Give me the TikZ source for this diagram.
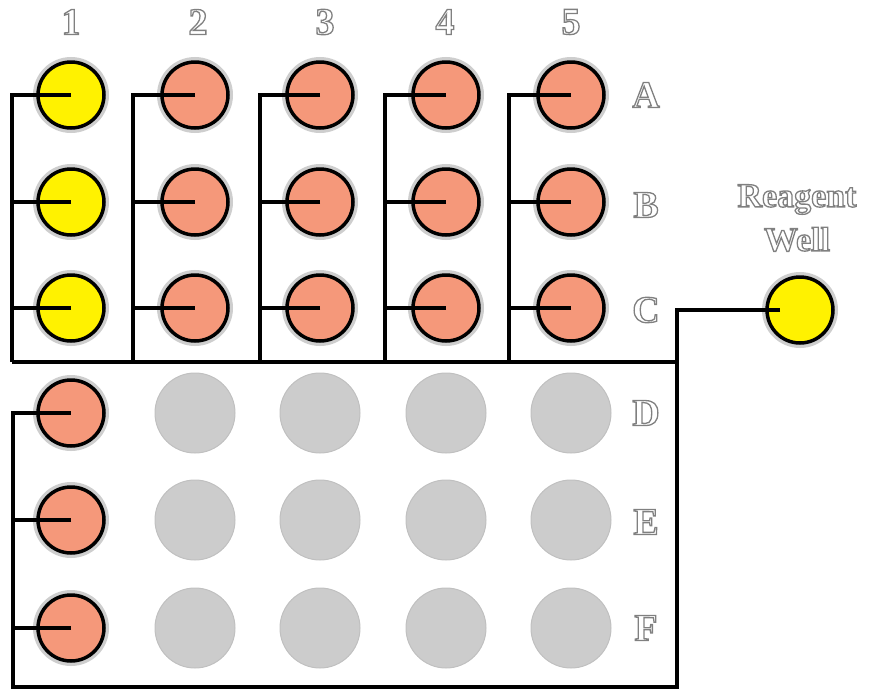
\documentclass[tikz,border=0pt]{standalone}
\usepackage{fontspec}
\setmainfont{Liberation Serif}
\definecolor{wellyellow}{RGB}{255,242,0}
\definecolor{wellsalmon}{RGB}{245,152,122}
\definecolor{halo}{RGB}{206,206,206}
\definecolor{emptywell}{RGB}{204,204,204}
\definecolor{emptyrim}{RGB}{192,192,192}
\newcommand{\outlinetext}[1]{{\color{white}\special{pdf:literal direct 2 Tr 0.5 0.5 0.5 RG 1.3 w}#1\special{pdf:literal direct 0 Tr 0 0 0 RG}}}
\tikzset{
  well/.style={circle, draw=black, line width=3.5pt, minimum size=66pt, inner sep=0pt,
    preaction={draw=halo, line width=10pt}},
  yellowwell/.style={well, fill=wellyellow},
  salmonwell/.style={well, fill=wellsalmon},
  emptywellstyle/.style={circle, fill=emptywell, draw=emptyrim, line width=1pt, minimum size=80pt, inner sep=0pt},
  wire/.style={draw=black, line width=3.2pt, line join=miter},
  lbl/.style={inner sep=0pt, font=\bfseries\fontsize{38}{44}\selectfont},
}
\begin{document}
\begin{tikzpicture}[x=1pt,y=-1pt]
\useasboundingbox (0,0) rectangle (871,689);
% wells
\foreach \c/\x in {1/71,2/195,3/320,4/446,5/571}{
  \foreach \r/\y in {A/95,B/202,C/308}{
    \ifnum\c=1
      \node[yellowwell] (w-\c-\r) at (\x,\y) {};
    \else
      \node[salmonwell] (w-\c-\r) at (\x,\y) {};
    \fi
  }
  \foreach \r/\y in {D/413,E/520,F/628}{
    \ifnum\c=1
      \node[salmonwell] (w-\c-\r) at (\x,\y) {};
    \else
      \node[emptywellstyle] (w-\c-\r) at (\x,\y) {};
    \fi
  }
}
\node[yellowwell] (rw) at (800,310) {};
% bus coordinates
\coordinate (bus-1) at (12,362);
\coordinate (bus-2) at (133,362);
\coordinate (bus-3) at (260,362);
\coordinate (bus-4) at (385,362);
\coordinate (bus-5) at (509,362);
\coordinate (tr) at (677,310);
\coordinate (br) at (677,687);
\coordinate (bl) at (13,687);
\coordinate (rstub) at (780,310);
% column wires
\foreach \c in {1,...,5}{
  \draw[wire] (w-\c-A.center) -| (bus-\c);
  \draw[wire] (w-\c-B.center) -- (w-\c-B.center -| bus-\c);
  \draw[wire] (w-\c-C.center) -- (w-\c-C.center -| bus-\c);
}
\draw[wire] (bus-1) -- (bus-1 -| tr);
\draw[wire] (rstub) -- (tr) -- (br) -- (bl) |- (w-1-D.center);
\draw[wire] (w-1-E.center) -- (w-1-E.center -| bl);
\draw[wire] (w-1-F.center) -- (w-1-F.center -| bl);
% labels
\foreach \c/\x in {1/71,2/198,3/325,4/445,5/571}{
  \node[lbl] (col-\c) at (\x,22) {\outlinetext{\c}};
}
\foreach \r/\y in {A/95,B/205,C/310,D/413,E/522,F/628}{
  \node[lbl] (row-\r) at (646,\y) {\outlinetext{\r}};
}
\node[lbl, align=center, font=\bfseries\fontsize{34}{44}\selectfont] (rlabel) at (797,218) {\outlinetext{Reagent}\\\outlinetext{Well}};
\end{tikzpicture}
\end{document}
